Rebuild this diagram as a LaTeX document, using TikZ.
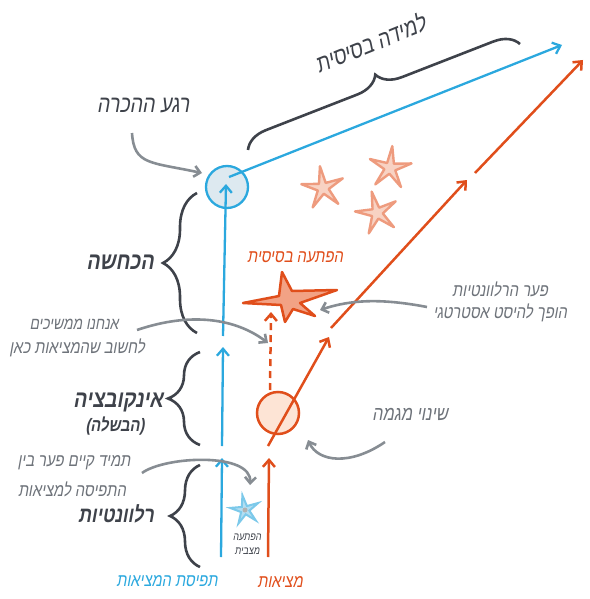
\documentclass[tikz,border=0pt]{standalone}
\usepackage{fontspec}
\usetikzlibrary{arrows.meta,decorations.pathreplacing,shapes.geometric,calc}
\TeXXeTstate=1
\newfontfamily\heb[Script=Hebrew,FakeSlant=0.18,FakeStretch=0.82]{Liberation Sans}
\newfontfamily\latf[FakeSlant=0.18,FakeStretch=0.82]{Liberation Sans}
\definecolor{cblue}{HTML}{2BA8DE}
\definecolor{corange}{HTML}{E04E1B}
\definecolor{cdark}{HTML}{3E424A}
\definecolor{cgrey}{HTML}{6E737A}
\definecolor{carrow}{HTML}{878D93}
\definecolor{cbluefill}{HTML}{DDE9F0}
\definecolor{corfill}{HTML}{FDE4D5}
\definecolor{csalmon}{HTML}{EE9B7E}
\definecolor{csalfill}{HTML}{F8D2C3}
\definecolor{cbigfill}{HTML}{F2A285}
\definecolor{cbstar}{HTML}{7CC9EA}
\definecolor{cbstarfill}{HTML}{B3DEF2}
\tikzset{
  bl/.style={cblue,line width=2.3pt,-{Straight Barb[length=7pt,width=12pt]}},
  orl/.style={corange,line width=2.5pt,-{Straight Barb[length=7pt,width=12pt]}},
  garr/.style={carrow,line width=2.6pt,-{Straight Barb[length=6pt,width=11pt]}},
  brc/.style={cdark,line width=2.6pt,decorate,decoration={brace,amplitude=#1}},
  darklbl/.style={text=cdark,font=\heb\fontsize{24}{26}\selectfont,inner sep=0pt},
  boldlbl/.style={text=cdark,font=\heb\bfseries\fontsize{24}{26}\selectfont,inner sep=0pt},
  greylbl/.style={text=cgrey,font=\heb\fontsize{18}{20}\selectfont,inner sep=0pt},
  sstar/.style={star,star points=5,star point ratio=3.8,minimum size=44pt,inner sep=0pt,draw=csalmon,fill=csalfill,line width=2.4pt,line join=round},
}
\begin{document}
\begin{tikzpicture}[x=1pt,y=-1pt]
\useasboundingbox (0,0) rectangle (589,599);

% circles
\node[circle,draw=cblue,fill=cbluefill,line width=2.3pt,minimum size=42pt,inner sep=0pt] (recog) at (227,187) {};
\node[circle,draw=corange,fill=corfill,line width=2.5pt,minimum size=42pt,inner sep=0pt] (trend) at (278,413) {};

% stars
\node[sstar,rotate=8] (s1) at (323,188) {};
\node[sstar,rotate=-6] (s2) at (390,168) {};
\node[sstar,rotate=14] (s3) at (377,213) {};
\node[star,star points=5,star point ratio=3.4,minimum size=30pt,inner sep=0pt,draw=cbstar,fill=cbstarfill,line width=2pt,rotate=10] (bs) at (245,510) {};
\fill[gray!60] (bs.center) circle (2.5pt);
\draw[corange,fill=cbigfill,line width=2.5pt,line join=round]
  (243,303) -- (279,296) -- (282,272) -- (292,291) -- (337,290) -- (300,303)
  -- (315,316) -- (293,309) -- (285,322) -- (281,305) -- cycle;

% blue lines
\coordinate (b0) at (221,557); \coordinate (b1) at (222,458);
\coordinate (b2) at (222,446); \coordinate (b3) at (223,347);
\coordinate (b4) at (223,336); \coordinate (b5) at (226,184);
\coordinate (b6) at (229,177); \coordinate (b7) at (562,45);
\draw[bl] (b0) -- (b1);
\draw[bl] (b2) -- (b3);
\draw[bl] (b4) -- (b5);
\draw[bl] (b6) -- (b7);

% orange lines
\coordinate (o0) at (268,557); \coordinate (o1) at (269,458);
\coordinate (o2) at (268,446); \coordinate (o3) at (329,337);
\coordinate (o4) at (331,328); \coordinate (o5) at (467,180);
\coordinate (o6) at (475,173); \coordinate (o7) at (583,60);
\coordinate (o8) at (270,390); \coordinate (o9) at (271,312);
\draw[orl] (o0) -- (o1);
\draw[orl] (o2) -- (o3);
\draw[orl] (o4) -- (o5);
\draw[orl] (o6) -- (o7);
\draw[orl,dashed,dash pattern=on 7pt off 5pt] (o8) -- (o9);

% braces
\coordinate (d0) at (197,333); \coordinate (d1) at (197,193);
\coordinate (i0) at (200,445); \coordinate (i1) at (200,352);
\coordinate (r0) at (200,567); \coordinate (r1) at (200,465);
\coordinate (l0) at (248,150); \coordinate (l1) at (520,44);
\draw[brc=34pt] (d0) -- (d1);
\draw[brc=32pt] (i0) -- (i1);
\draw[brc=30pt] (r0) -- (r1);
\draw[brc=24pt] (l0) -- (l1);

% labels
\node[darklbl] (trecog) at (143,106) {\beginR רגע ההכרה\endR};
\node[boldlbl] (tdenial) at (120,262) {\beginR הכחשה\endR};
\node[greylbl,font=\heb\fontsize{17}{19}\selectfont] (tkeep1) at (74,324) {\beginR אנחנו ממשיכים\endR};
\node[greylbl] (tkeep2) at (77,348) {\beginR לחשוב שהמציאות כאן\endR};
\node[boldlbl] (tincub) at (118,402) {\beginR אינקובציה\endR};
\node[text=cdark,font=\heb\bfseries\fontsize{18}{20}\selectfont,inner sep=0pt] (tripe) at (115,426) {{\latf\bfseries(}\beginR הבשלה\endR{\latf\bfseries)}};
\node[greylbl] (tgap1) at (74,463) {\beginR תמיד קיים פער בין\endR};
\node[greylbl] (tgap2) at (72,489) {\beginR התפיסה למציאות\endR};
\node[boldlbl,font=\heb\bfseries\fontsize{22}{24}\selectfont] (trel) at (116,514) {\beginR רלוונטיות\endR};
\node[text=cblue,font=\heb\fontsize{18}{20}\selectfont,inner sep=0pt] (tperc) at (167,581) {\beginR תפיסת המציאות\endR};
\node[text=corange,font=\heb\fontsize{18}{20}\selectfont,inner sep=0pt] (treal) at (280,582) {\beginR מציאות\endR};
\node[text=cdark,font=\heb\fontsize{11}{12}\selectfont,inner sep=0pt] (tsit1) at (247,537) {\beginR הפתעה\endR};
\node[text=cdark,font=\heb\fontsize{11}{12}\selectfont,inner sep=0pt] (tsit2) at (247,551) {\beginR מצבית\endR};
\node[text=corange,font=\heb\fontsize{18}{20}\selectfont,inner sep=0pt] (tbasic) at (295,257) {\beginR הפתעה בסיסית\endR};
\node[greylbl] (tshift1) at (500,289) {\beginR פער הרלוונטיות\endR};
\node[greylbl] (tshift2) at (500,313) {\beginR הופך להיסט אסטרטגי\endR};
\node[greylbl,font=\heb\fontsize{20}{22}\selectfont] (ttrend) at (410,414) {\beginR שינוי מגמה\endR};
\node[darklbl,rotate=22] (tlearn) at (370,43) {\beginR למידה בסיסית\endR};

% grey arrows
\coordinate (g1a) at (132,133); \coordinate (g1b) at (202,173);
\draw[garr] (g1a) .. controls (134,165) and (150,162) .. (g1b);
\coordinate (g2a) at (137,330); \coordinate (g2b) at (268,343);
\draw[garr] (g2a) .. controls (190,312) and (235,318) .. (g2b);
\coordinate (g3a) at (142,473); \coordinate (g3b) at (250,485);
\draw[garr] (g3a) .. controls (165,456) and (252,452) .. (g3b);
\coordinate (g4a) at (427,307); \coordinate (g4b) at (320,310);
\draw[garr] (g4a) .. controls (380,298) and (350,300) .. (g4b);
\coordinate (g5a) at (385,442); \coordinate (g5b) at (308,440);
\draw[garr] (g5a) .. controls (350,466) and (318,462) .. (g5b);
\end{tikzpicture}
\end{document}
